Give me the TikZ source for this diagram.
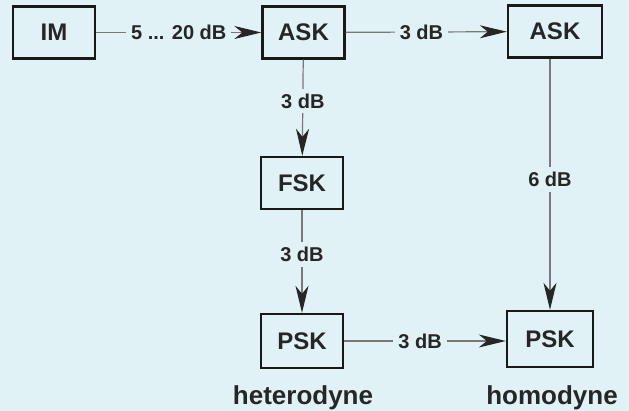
\documentclass[tikz,border=0pt]{standalone}
\usepackage{fontspec}
\setmainfont{Liberation Sans}
\usetikzlibrary{arrows.meta}
\definecolor{bgc}{RGB}{224,242,246}
\definecolor{linec}{RGB}{120,120,120}
\begin{document}
\begin{tikzpicture}[x=1pt,y=-1pt,
  box/.style={draw=black!90,line width=2.4pt,minimum width=82pt,minimum height=52pt,inner sep=0pt,font=\fontsize{24}{26}\selectfont\bfseries,text=black!85},
  lab/.style={fill=bgc,inner sep=5pt,font=\fontsize{20}{22}\selectfont\bfseries,text=black!85},
  bottomlab/.style={font=\fontsize{26}{28}\selectfont\bfseries,anchor=base,text=black!85},
  conn/.style={draw=linec,line width=1.2pt,-{Stealth[length=27pt,width=13pt,inset=8pt,color=black!85]}}]
\fill[bgc] (0,0) rectangle (629,411);
\useasboundingbox (0,0) rectangle (629,411);
\node[box] (im) at (54,32.5) {IM};
\node[box] (ask1) at (303.5,32.5) {ASK};
\node[box,minimum width=94pt] (ask2) at (555,31.5) {ASK};
\node[box] (fsk) at (302,183) {FSK};
\node[box,minimum height=54pt] (psk1) at (302,341) {PSK};
\node[box,minimum width=86pt,minimum height=56pt] (psk2) at (550,339) {PSK};
\node[bottomlab] (het) at (303,404) {heterodyne};
\node[bottomlab] (hom) at (552,404) {homodyne};
\path[conn] (im) -- node[lab] {5 ... 20 dB} (ask1);
\path[conn] (ask1) -- node[lab,pos=0.47] {3 dB} (ask2);
\path[conn] (ask1) -- node[lab,pos=0.43] {3 dB} (fsk);
\path[conn] (fsk) -- node[lab,pos=0.43] {3 dB} (psk1);
\path[conn] (ask2.south -| psk2) -- node[lab,pos=0.48] {6 dB} (psk2);
\path[conn] (psk1.east) -- node[lab,pos=0.47] {3 dB} (psk2.west |- psk1.east);
\end{tikzpicture}
\end{document}
